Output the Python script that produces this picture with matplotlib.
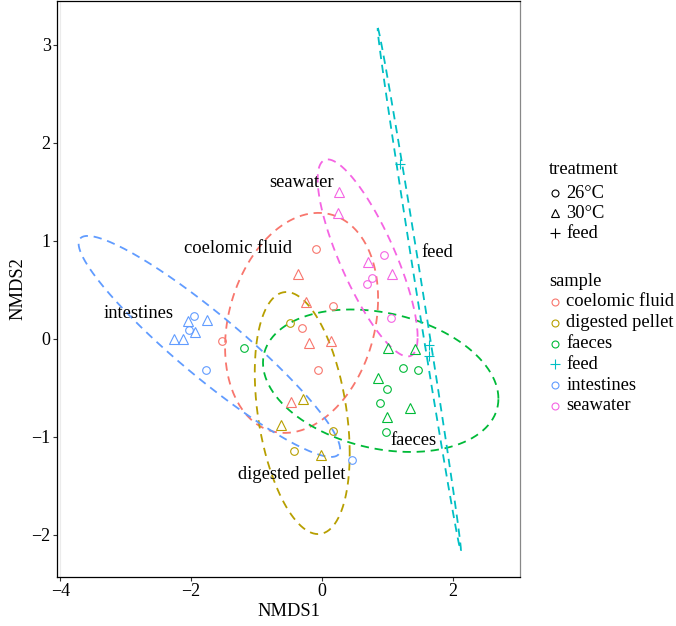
import numpy as np
import matplotlib.pyplot as plt
from matplotlib.lines import Line2D

plt.rcParams['font.family'] = ['Liberation Serif', 'DejaVu Serif']

samples = ['coelomic fluid', 'digested pellet', 'faeces', 'feed', 'intestines', 'seawater']
colours = ['#F8766D', '#B79F00', '#00BA38', '#00BFC4', '#619CFF', '#F564E3']
treatments = ['26°C', '30°C', 'feed']
shapes = ['o', '^', '+']

# NMDS scores
coelomic_x = [-0.092, 0.164, -0.310, -0.066, -1.534, -0.372, -0.249, -0.203, 0.138, -0.474]
coelomic_y = [0.912, 0.335, 0.109, -0.325, -0.020, 0.658, 0.373, -0.044, -0.020, -0.644]
coelomic_t = ['26°C'] * 5 + ['30°C'] * 5

digested_x = [-0.489, 0.164, -0.424, -0.286, -0.632, -0.020]
digested_y = [0.163, -0.945, -1.145, -0.613, -0.887, -1.189]
digested_t = ['26°C'] * 3 + ['30°C'] * 3

faeces_x = [-1.188, 1.234, 1.463, 0.989, 0.887, 0.979, 1.014, 1.422, 0.861, 1.346, 0.998]
faeces_y = [-0.097, -0.298, -0.322, -0.511, -0.653, -0.952, -0.095, -0.105, -0.399, -0.704, -0.796]
faeces_t = ['26°C'] * 6 + ['30°C'] * 5

feed_x = [1.193, 1.636, 1.644]
feed_y = [1.778, -0.061, -0.173]
feed_t = ['feed'] * 3

intestines_x = [-1.957, -2.029, -1.778, 0.454, -2.044, -1.763, -1.942, -2.263, -2.130]
intestines_y = [0.234, 0.091, -0.325, -1.240, 0.176, 0.186, 0.064, -0.003, -0.003]
intestines_t = ['26°C'] * 4 + ['30°C'] * 5

seawater_x = [0.953, 0.683, 0.769, 1.050, 0.260, 0.249, 0.708, 1.075]
seawater_y = [0.854, 0.559, 0.617, 0.210, 1.497, 1.277, 0.786, 0.658]
seawater_t = ['26°C'] * 4 + ['30°C'] * 4

# ellipses: centre and two conjugate semi-diameters (data units)
ell_cx = [-0.31, -0.30, 0.90, 1.49, -1.72, 0.70]
ell_cy = [0.16, -0.76, -0.43, 0.50, -0.08, 0.823]
ell_ux = [1.17, 0.726, 1.80, -0.635, 2.00, 0.7645]
ell_uy = [0.248, -0.413, -0.183, 2.668, -1.05, -0.804]
ell_vx = [0.0, 0.0, 0.0, 0.048, 0.0, 0.0]
ell_vy = [1.095, 1.164, 0.7035, 0.005, 0.412, 0.604]

# group label positions
label_x = [-1.280, -0.463, 1.396, 1.763, -2.809, -0.310]
label_y = [0.915, -1.392, -1.044, 0.881, 0.261, 1.588]

xticks = [-4, -2, 0, 2]
yticks = [-2, -1, 0, 1, 2, 3]

groups = [(coelomic_x, coelomic_y, coelomic_t),
          (digested_x, digested_y, digested_t),
          (faeces_x, faeces_y, faeces_t),
          (feed_x, feed_y, feed_t),
          (intestines_x, intestines_y, intestines_t),
          (seawater_x, seawater_y, seawater_t)]

marker_size = {'o': 5.5, '^': 6.5, '+': 7}

W, H = 676, 626
fig = plt.figure(figsize=(W / 100, H / 100), dpi=100)
ax = fig.add_axes([57 / W, 1 - 576.7 / H, (520 - 57) / W, 575.7 / H])

ax.axvline(xticks[0], color='#ebebeb', lw=0.8, zorder=0)

for (gx, gy, gt), col in zip(groups, colours):
    gx = np.array(gx)
    gy = np.array(gy)
    gt = np.array(gt)
    for tr, mk in zip(treatments, shapes):
        sel = gt == tr
        if not sel.any():
            continue
        ax.plot(gx[sel], gy[sel], linestyle='none', marker=mk, ms=marker_size[mk],
                mfc='none', mec=col, mew=0.8, zorder=3)

t = np.linspace(0, 2 * np.pi, 241)
for i, col in enumerate(colours):
    ex = ell_cx[i] + ell_ux[i] * np.cos(t) + ell_vx[i] * np.sin(t)
    ey = ell_cy[i] + ell_uy[i] * np.cos(t) + ell_vy[i] * np.sin(t)
    ax.plot(ex, ey, color=col, lw=1.3, linestyle=(0, (4.6, 3.2)), zorder=2)

for name, lx, ly in zip(samples, label_x, label_y):
    ax.text(lx, ly, name, fontsize=13.3, ha='center', va='center', zorder=4)

ax.set_xlim(-4.05, 3.03)
ax.set_ylim(-2.43, 3.445)
ax.set_xticks(xticks)
ax.set_yticks(yticks)
ax.tick_params(direction='out', length=3, width=0.8, color='#333333',
               labelsize=13, pad=1.5)
ax.set_xlabel('NMDS1', fontsize=13.3, labelpad=2)
ax.set_ylabel('NMDS2', fontsize=13.3, labelpad=4)
for s in ax.spines.values():
    s.set_linewidth(0.9)
    s.set_color('black')
ax.spines['right'].set_color('#888888')

# legend drawn by hand
def fx(px):
    return px / W

def fy(py):
    return 1 - py / H

fig.text(fx(549), fy(170), 'treatment', fontsize=13.3, va='center', ha='left')
for k, (tr, mk) in enumerate(zip(treatments, shapes)):
    yy = 193.3 + 20 * k
    fig.add_artist(Line2D([fx(555)], [fy(yy)], transform=fig.transFigure, marker=mk,
                          ms=marker_size[mk] - 0.5, mfc='none', mec='black', mew=0.8,
                          linestyle='none'))
    fig.text(fx(566.5), fy(yy), tr, fontsize=13.3, va='center', ha='left')

fig.text(fx(549), fy(281), 'sample', fontsize=13.3, va='center', ha='left')
for k, (name, col) in enumerate(zip(samples, colours)):
    yy = 302 + 20.8 * k
    mk = '+' if name == 'feed' else 'o'
    fig.add_artist(Line2D([fx(555)], [fy(yy)], transform=fig.transFigure, marker=mk,
                          ms=marker_size[mk] - 0.5, mfc='none', mec=col, mew=0.8,
                          linestyle='none'))
    fig.text(fx(566.5), fy(yy), name, fontsize=13.3, va='center', ha='left')

fig.savefig('out.png', dpi=100)
